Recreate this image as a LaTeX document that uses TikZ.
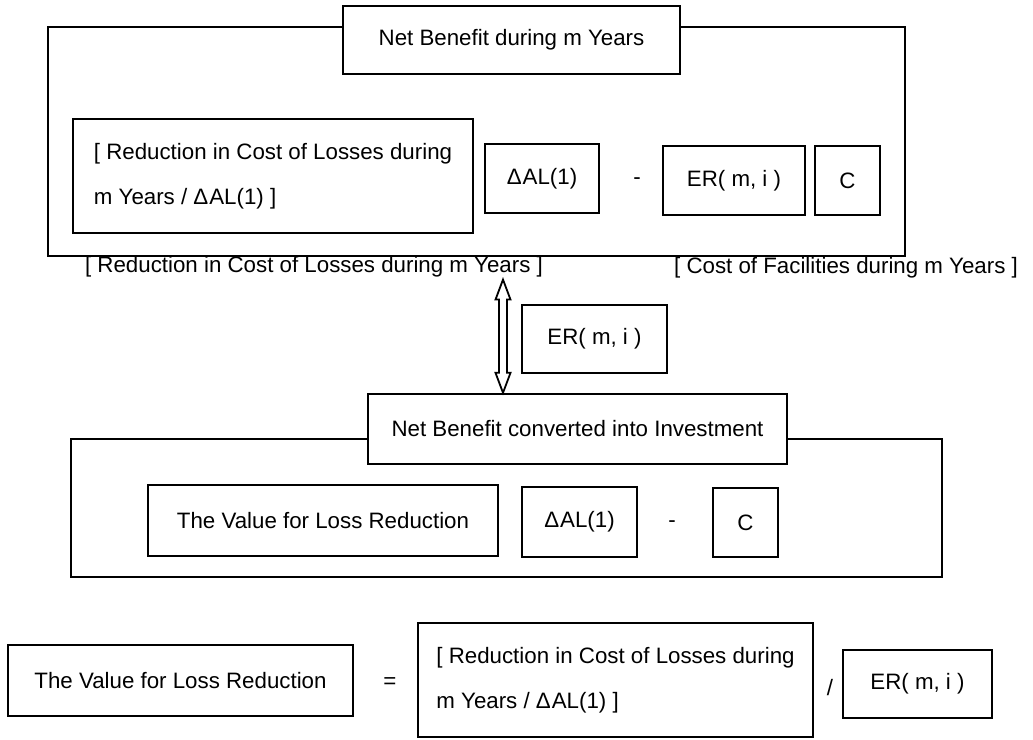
\documentclass[tikz,border=0pt]{standalone}
\usepackage{fontspec}
\setmainfont{Liberation Sans}
\usetikzlibrary{calc}
\begin{document}
\begin{tikzpicture}[x=1pt,y=-1pt,
  every node/.style={font=\fontsize{22.3}{26}\selectfont, inner sep=0pt},
  bx/.style={draw, line width=2.4pt, fill=white},
  frame/.style={draw, line width=2.4pt},
  twoline/.style={align=left, font=\fontsize{22.3}{45}\selectfont},
  hollowarrow/.style={draw, line width=1.8pt, line join=miter},
  lbl/.style={}
]
\useasboundingbox (0,0) rectangle (1033,739);
% ---------- top frame ----------
\draw[frame] (48,27) rectangle (905,256);
\node[bx, minimum width=337pt, minimum height=68pt] (t1) at (511.5,40) {Net Benefit during m Years};
\node[bx, twoline, minimum width=400pt, minimum height=114pt] (big1) at (273,176)
  {[ Reduction in Cost of Losses during\\m Years / Δ\kern1pt AL(1) ]};
\node[bx, minimum width=114pt, minimum height=69pt] (dal1) at (542,178.5) {Δ\kern1pt AL(1)};
\node (m1) at (637,181) {-};
\node[bx, minimum width=142pt, minimum height=69pt] (er1) at (734,180.5) {ER( m, i )};
\node[bx, minimum width=65pt, minimum height=69pt] (c1) at (847.5,180.5) {C};
\node[lbl] (lab1) at (314,267) {[ Reduction in Cost of Losses during m Years ]};
\node[lbl] (lab2) at (846,268) {[ Cost of Facilities during m Years ]};
% ---------- middle ----------
\node[bx, minimum width=145pt, minimum height=68pt] (er2) at (594.5,339) {ER( m, i )};
% ---------- bottom frame ----------
\draw[frame] (71,439) rectangle (942,577);
\node[bx, minimum width=419pt, minimum height=70pt] (t2) at (577.5,429) {Net Benefit converted into Investment};
% hollow double-headed arrow between the label and the lower title box
\coordinate (ax) at (503,330);
\coordinate (aT) at ($(ax |- lab1.south)+(0,2)$);
\coordinate (aB) at (ax |- t2.north);
\path[hollowarrow] (aT) -- ($(aT)+(7.5,20)$) -- ($(aT)+(4,20)$) -- ($(aB)+(4,-20)$) -- ($(aB)+(7.5,-20)$) -- (aB)
  -- ($(aB)+(-7.5,-20)$) -- ($(aB)+(-4,-20)$) -- ($(aT)+(-4,20)$) -- ($(aT)+(-7.5,20)$) -- cycle;
\node[bx, minimum width=350pt, minimum height=71pt] (v2) at (323,520.5) {The Value for Loss Reduction};
\node[bx, minimum width=115pt, minimum height=70pt] (dal2) at (579.5,522) {Δ\kern1pt AL(1)};
\node (m2) at (672,524) {-};
\node[bx, minimum width=65pt, minimum height=69pt] (c2) at (745.5,522.5) {C};
% ---------- equation ----------
\node[bx, minimum width=345pt, minimum height=71pt] (v3) at (180.5,680.5) {The Value for Loss Reduction};
\node (eq) at (390,683) {=};
\node[bx, twoline, minimum width=395pt, minimum height=114pt] (big3) at (615.5,680)
  {[ Reduction in Cost of Losses during\\m Years / Δ\kern1pt AL(1) ]};
\node (sl) at (830,688) {/};
\node[bx, minimum width=149pt, minimum height=68pt] (er3) at (917.5,684) {ER( m, i )};
\end{tikzpicture}
\end{document}
